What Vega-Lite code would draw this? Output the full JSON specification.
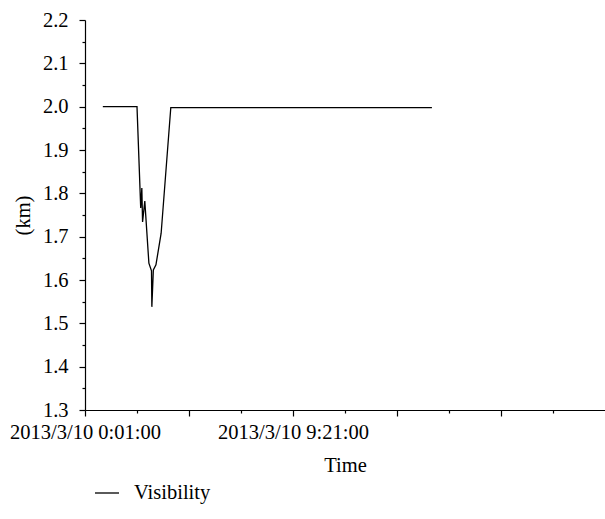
{
  "$schema": "https://vega.github.io/schema/vega-lite/v6.json",
  "width": 520,
  "height": 390,
  "autosize": {"type": "none"},
  "padding": {"left": 85, "top": 20, "right": 0, "bottom": 109},
  "background": "white",
  "config": {
    "view": {"stroke": null},
    "font": "Liberation Serif",
    "axis": {
      "labelFont": "Liberation Serif",
      "titleFont": "Liberation Serif",
      "labelColor": "black",
      "titleColor": "black",
      "domainColor": "black",
      "tickColor": "black",
      "grid": false,
      "titleFontWeight": "normal",
      "labelFontSize": 20.5,
      "titleFontSize": 20.5,
      "domainWidth": 1.2,
      "tickWidth": 1.2
    }
  },
  "data": {
    "values": [
      {"time": "2013-03-10T00:49:00", "visibility": 2.0},
      {"time": "2013-03-10T02:21:00", "visibility": 2.0},
      {"time": "2013-03-10T02:31:00", "visibility": 1.766},
      {"time": "2013-03-10T02:34:00", "visibility": 1.812},
      {"time": "2013-03-10T02:36:00", "visibility": 1.734},
      {"time": "2013-03-10T02:42:00", "visibility": 1.782},
      {"time": "2013-03-10T02:53:00", "visibility": 1.639},
      {"time": "2013-03-10T03:00:00", "visibility": 1.621},
      {"time": "2013-03-10T03:01:00", "visibility": 1.538},
      {"time": "2013-03-10T03:05:00", "visibility": 1.623},
      {"time": "2013-03-10T03:12:00", "visibility": 1.635},
      {"time": "2013-03-10T03:26:00", "visibility": 1.708},
      {"time": "2013-03-10T03:52:00", "visibility": 1.998},
      {"time": "2013-03-10T15:35:00", "visibility": 1.998}
    ]
  },
  "mark": {"type": "line", "strokeWidth": 1.3, "clip": false},
  "encoding": {
    "x": {
      "field": "time",
      "type": "temporal",
      "scale": {
        "domain": [
          {"year": 2013, "month": 3, "date": 10, "hours": 0, "minutes": 1},
          {"year": 2013, "month": 3, "date": 10, "hours": 23, "minutes": 21}
        ]
      },
      "axis": {
        "title": "Time",
        "values": [
          {"year": 2013, "month": 3, "date": 10, "hours": 0, "minutes": 1},
          {"year": 2013, "month": 3, "date": 10, "hours": 2, "minutes": 21},
          {"year": 2013, "month": 3, "date": 10, "hours": 4, "minutes": 41},
          {"year": 2013, "month": 3, "date": 10, "hours": 7, "minutes": 1},
          {"year": 2013, "month": 3, "date": 10, "hours": 9, "minutes": 21},
          {"year": 2013, "month": 3, "date": 10, "hours": 11, "minutes": 41},
          {"year": 2013, "month": 3, "date": 10, "hours": 14, "minutes": 1},
          {"year": 2013, "month": 3, "date": 10, "hours": 16, "minutes": 21},
          {"year": 2013, "month": 3, "date": 10, "hours": 18, "minutes": 41},
          {"year": 2013, "month": 3, "date": 10, "hours": 21, "minutes": 1}
        ],
        "labelExpr": "(hours(datum.value) == 0 && minutes(datum.value) == 1) || (hours(datum.value) == 9 && minutes(datum.value) == 21) ? timeFormat(datum.value, '%Y/%-m/%-d %-H:%M:%S') : ''",
        "tickSize": {"condition": {"test": "(hours(datum.value) * 60 + minutes(datum.value) - 1) % 280 == 0", "value": 6}, "value": 3},
        "labelFlush": false,
        "labelOverlap": false,
        "labelBound": false,
        "labelPadding": 6,
        "titlePadding": 13
      }
    },
    "y": {
      "field": "visibility",
      "type": "quantitative",
      "scale": {"domain": [1.3, 2.2], "zero": false, "nice": false},
      "axis": {
        "title": "(km)",
        "values": [1.3, 1.35, 1.4, 1.45, 1.5, 1.55, 1.6, 1.65, 1.7, 1.75, 1.8, 1.85, 1.9, 1.95, 2.0, 2.05, 2.1, 2.15, 2.2],
        "labelExpr": "round(datum.value * 100) % 10 == 0 ? format(datum.value, '.1f') : ''",
        "tickSize": {"condition": {"test": "round(datum.value * 100) % 10 == 0", "value": 6}, "value": 3},
        "labelFlush": false,
        "labelOverlap": false,
        "labelPadding": 11,
        "titlePadding": 9
      }
    },
    "color": {
      "datum": "Visibility",
      "scale": {"range": ["black"]},
      "legend": {
        "orient": "none",
        "legendX": 9,
        "legendY": 460,
        "title": null,
        "symbolType": "stroke",
        "symbolSize": 576,
        "symbolStrokeWidth": 1.3,
        "labelFont": "Liberation Serif",
        "labelFontSize": 20.5,
        "labelColor": "black",
        "labelOffset": 14,
        "padding": 0
      }
    }
  }
}
